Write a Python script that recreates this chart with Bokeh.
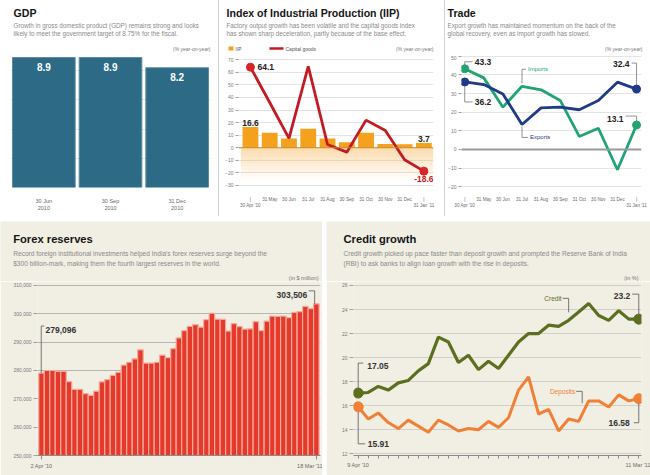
from bokeh.plotting import figure
from bokeh.layouts import column, row
from bokeh.models import Range1d, FactorRange, FixedTicker, NumeralTickFormatter, Span, Spacer, Label
from bokeh.core.properties import value
from bokeh.embed import file_html
from bokeh.resources import INLINE

# ---------------- data ----------------
gdp_quarters = ["30 Jun\n2010", "30 Sep\n2010", "31 Dec\n2010"]
gdp_growth = [8.9, 8.9, 8.2]

month_labels = ["30 Apr '10", "31 May", "30 Jun", "31 Jul", "31 Aug", "30 Sep",
                "31 Oct", "30 Nov", "31 Dec", "31 Jan '11"]
iip_growth = [16.6, 12.0, 7.4, 15.2, 7.4, 4.4, 12.0, 3.0, 2.8, 3.7]
capital_goods_growth = [64.1, 36.0, 7.5, 64.8, 2.6, -3.5, 22.0, 13.8, -9.5, -18.6]
iip_ticks = [-30, -20, -10, 0, 10, 20, 30, 40, 50, 60, 70]

import_growth = [43.3, 38.4, 22.7, 33.9, 32.0, 26.3, 7.0, 11.4, -10.9, 13.1]
export_growth = [36.2, 34.8, 29.8, 13.4, 22.3, 22.7, 21.3, 26.3, 36.1, 32.4]
trade_ticks = [-20, -10, 0, 10, 20, 30, 40, 50]

forex_end_labels = ["2 Apr '10", "18 Mar '11"]
forex_reserves = [279096, 280000, 280000, 279700, 279700, 276100, 273300, 273300,
                  271800, 271200, 272700, 276000, 276800, 278300, 279300, 281900,
                  282900, 284100, 287300, 282600, 282600, 282900, 285400, 284500,
                  287700, 291500, 294100, 295600, 296200, 295300, 297900, 300200,
                  298100, 298000, 293900, 296500, 295500, 294600, 294700, 297200,
                  294100, 297400, 299200, 299100, 299200, 298600, 300500, 300800,
                  302600, 301800, 303506]
forex_ticks = [250000, 260000, 270000, 280000, 290000, 300000, 310000]

credit_end_labels = ["9 Apr '10", "11 Mar '11"]
credit_growth = [17.05, 17.1, 17.6, 17.3, 17.9, 18.1, 18.9, 19.5, 21.7, 21.3,
                 19.6, 20.2, 19.0, 19.7, 19.1, 20.2, 21.3, 22.0, 22.0, 22.7,
                 22.6, 23.1, 23.8, 24.5, 23.5, 23.1, 23.9, 23.2, 23.2]
deposit_growth = [15.91, 14.9, 15.4, 14.6, 14.1, 14.8, 14.3, 13.8, 14.8, 14.4,
                  13.9, 14.1, 14.0, 14.7, 14.2, 15.0, 17.3, 18.4, 15.3, 15.7,
                  13.9, 14.9, 14.7, 16.4, 16.4, 15.9, 16.9, 16.4, 16.58]
credit_ticks = [12, 14, 16, 18, 20, 22, 24, 26]

# ---------------- style ----------------
NARROW = "Liberation Sans"
FN = value(NARROW)
WHITE = "#ffffff"
BEIGE = "#f1eee4"


def txt(f, x, y, t, size, color="#222222", bold=False, align="left",
        baseline="middle", xo=0, yo=0):
    f.text(x=x, y=y, text=t, text_font=FN, text_font_size=f"{size}px",
           text_font_style="bold" if bold else "normal", text_color=color,
           text_align=align, text_baseline=baseline, x_offset=xo, y_offset=yo)


def header(w, h, bg, title, tx, ty, tsize, subs, sy, ssize, unit, ux, uy, usize):
    f = figure(width=w, height=h, x_range=Range1d(0, w), y_range=Range1d(h, 0),
               toolbar_location=None, output_backend="svg", x_axis_location=None,
               y_axis_location=None, min_border=0, background_fill_color=bg,
               border_fill_color=bg, outline_line_color=None, frame_align=False)
    f.grid.visible = False
    txt(f, [tx], [ty], [title], tsize, color="#151515", bold=True)
    txt(f, [tx] * len(subs), sy, subs, ssize, color="#8a8a8a")
    txt(f, [ux], [uy], [unit], usize, color="#777777", align="right")
    return f


def plot_fig(w, h, xr, yr, bg, l, r, t, b, **kw):
    f = figure(width=w, height=h, x_range=xr, y_range=yr, toolbar_location=None,
               output_backend="svg", background_fill_color=bg, border_fill_color=bg,
               outline_line_color=None, min_border_left=l, min_border_right=r,
               min_border_top=t, min_border_bottom=b, frame_align=False, **kw)
    return f


def style_y(ax, size=5):
    ax.axis_line_color = None
    ax.major_tick_out = 3
    ax.major_tick_in = 0
    ax.minor_tick_line_color = None
    ax.major_tick_line_color = "#a0a0a0"
    ax.major_label_text_font = NARROW
    ax.major_label_text_font_size = f"{size}px"
    ax.major_label_text_color = "#7a7a7a"
    ax.major_label_standoff = 2


def style_x(ax, size=5):
    ax.minor_tick_line_color = None
    ax.major_tick_in = 0
    ax.major_label_text_font = NARROW
    ax.major_label_text_font_size = f"{size}px"
    ax.major_label_text_color = "#6a6a6a"
    ax.major_label_standoff = 3


TT = 10.6   # top titles
BT = 11.2   # bottom titles

# ================= GDP =================
gdp_h = header(218, 55, WHITE, "GDP", 13, 12, TT,
               ["Growth in gross domestic product (GDP) remains strong and looks",
                "likely to meet the government target of 8.75% for the fiscal."],
               [25, 33], 6.3, "(% year-on-year)", 210, 48, 5)
gdp_p = plot_fig(218, 161, FactorRange(factors=gdp_quarters), Range1d(0, 9.04), WHITE,
                 10, 8, 0, 29, y_axis_location=None)
gdp_p.vbar(x=gdp_quarters, top=gdp_growth, width=0.94, fill_color="#2d6a86",
           line_color="#5a8ca3", line_width=1)
txt(gdp_p, gdp_quarters, gdp_growth, [f"{v:.1f}" for v in gdp_growth], 10,
    color="#ffffff", bold=True, align="center", baseline="top", yo=5)
gdp_p.xgrid.visible = False
style_x(gdp_p.xaxis[0], 5.5)
gdp_p.xaxis.axis_line_color = None
gdp_p.xaxis.major_tick_line_color = None
gdp_p.xaxis.major_label_standoff = 4
gdp_p.add_layout(Label(x=0.03, y=-0.35, text="Quarter", text_font=NARROW,
                       text_font_size="4.5px", text_color="#888888", text_baseline="top"))
gdp_p.add_layout(Label(x=0.03, y=-0.85, text="ending", text_font=NARROW,
                       text_font_size="4.5px", text_color="#888888", text_baseline="top"))

# ================= IIP =================
idx = list(range(len(month_labels)))
iip_h = header(225, 55, WHITE, "Index of Industrial Production (IIP)", 7, 12, TT,
               ["Factory output growth has been volatile and the capital goods index",
                "has shown sharp deceleration, partly because of the base effect."],
               [25, 33], 6.3, "(% year-on-year)", 214, 48, 5)
iip_h.quad(left=[9], right=[14], top=[46], bottom=[50], fill_color="#f4a11d", line_color=None)
txt(iip_h, [16], [48], ["IIP"], 5, color="#555555")
iip_h.line(x=[50, 64], y=[48, 48], line_color="#c41a24", line_width=2.5)
txt(iip_h, [66], [48], ["Capital goods"], 5, color="#555555")

iip_p = plot_fig(225, 161, Range1d(-0.62, 9.5), Range1d(-31.6, 73.4), WHITE, 19, 11, 0, 29)
nb = 10
band = 2.5
iip_p.quad(left=[-0.5] * nb, right=[len(idx) - 0.5] * nb,
           top=[-k * band for k in range(nb)], bottom=[-(k + 1) * band for k in range(nb)],
           fill_color="#f6ad45", fill_alpha=[0.42 * (1 - k / nb) for k in range(nb)],
           line_color=None)
iip_p.vbar(x=idx, top=iip_growth, width=0.82, fill_color="#f4a11d", line_color=None)
iip_p.add_layout(Span(location=0, dimension="width", line_color="#c98a2a", line_width=1.2))
iip_p.line(idx, capital_goods_growth, line_color="#c41a24", line_width=2.8)
iip_p.scatter([idx[0], idx[-1]], [capital_goods_growth[0], capital_goods_growth[-1]],
              size=8, fill_color="#d9232b", line_color="#d9232b")
txt(iip_p, [idx[0]], [capital_goods_growth[0]], [f"{capital_goods_growth[0]:.1f}"], 8.5,
    bold=True, xo=7)
txt(iip_p, [idx[0]], [iip_growth[0]], [f"{iip_growth[0]:.1f}"], 8.5, bold=True,
    align="center", baseline="bottom", yo=-1)
txt(iip_p, [idx[-1]], [iip_growth[-1]], [f"{iip_growth[-1]:.1f}"], 8.5, bold=True,
    align="center", baseline="bottom", yo=-1)
txt(iip_p, [idx[-1]], [capital_goods_growth[-1]], [f"{capital_goods_growth[-1]:.1f}"], 8.5,
    color="#c41a24", bold=True, align="center", baseline="top", yo=5)
iip_p.xgrid.visible = False
iip_p.ygrid.grid_line_color = "#dcdcdc"
iip_p.ygrid.grid_line_width = 0.8
iip_p.yaxis.ticker = FixedTicker(ticks=iip_ticks)
style_y(iip_p.yaxis[0])
iip_p.xaxis.ticker = FixedTicker(ticks=idx)
ov = {i: m for i, m in enumerate(month_labels)}
ov[0] = "|\n" + month_labels[0]
ov[len(idx) - 1] = "|\n" + month_labels[-1]
iip_p.xaxis.major_label_overrides = ov
style_x(iip_p.xaxis[0], 4.6)
iip_p.xaxis.axis_line_color = None
iip_p.xaxis.major_tick_line_color = None

# ================= Trade =================
tr_h = header(205, 55, WHITE, "Trade", 2, 12, TT,
              ["Export growth has maintained momentum on the back of the",
               "global recovery, even as import growth has slowed."],
              [25, 33], 6.3, "(% year-on-year)", 197, 48, 5)
tr_p = plot_fig(205, 161, Range1d(-0.17, 9.26), Range1d(-20.4, 50.4), WHITE, 14, 9, 0, 29)
tpx = 19.3   # px per month
tpy = 1.866  # px per unit
tr_p.add_layout(Span(location=0, dimension="width", line_color="#9a9a9a", line_width=2))
tr_p.line(idx, import_growth, line_color="#21a372", line_width=2.8)
tr_p.line(idx, export_growth, line_color="#1f3a87", line_width=2.8)
tr_p.scatter([idx[0], idx[-1]], [import_growth[0], import_growth[-1]], size=8,
             fill_color="#21a372", line_color="#21a372")
tr_p.scatter([idx[0], idx[-1]], [export_growth[0], export_growth[-1]], size=8,
             fill_color="#1f3a87", line_color="#1f3a87")
lead = dict(line_color="#777777", line_width=0.8)
i0, i9 = idx[0], idx[-1]
v = import_growth[0]
tr_p.line([i0, i0, i0 + 8 / tpx], [v + 3 / tpy, v + 7 / tpy, v + 7 / tpy], **lead)
txt(tr_p, [i0], [v], [f"{v:.1f}"], 8.5, bold=True, xo=10, yo=-7)
v = export_growth[0]
tr_p.line([i0, i0, i0 + 8 / tpx], [v - 4 / tpy, v - 20 / tpy, v - 20 / tpy], **lead)
txt(tr_p, [i0], [v], [f"{v:.1f}"], 8.5, bold=True, xo=10, yo=20)
v = export_growth[-1]
tr_p.line([i9, i9, i9 - 5 / tpx], [v + 4 / tpy, v + 26 / tpy, v + 26 / tpy], **lead)
txt(tr_p, [i9], [v], [f"{v:.1f}"], 8.5, bold=True, align="right", xo=-7, yo=-25)
v = import_growth[-1]
tr_p.line([i9, i9, i9 - 11 / tpx], [v + 4 / tpy, v + 9 / tpy, v + 9 / tpy], **lead)
txt(tr_p, [i9], [v], [f"{v:.1f}"], 8.5, bold=True, align="right", xo=-13, yo=-6)
v = import_growth[3]
tr_p.line([3, 3, 3 + 4 / tpx], [v + 3 / tpy, v + 17 / tpy, v + 17 / tpy], **lead)
txt(tr_p, [3], [v], ["Imports"], 6, color="#21a372", xo=6, yo=-17)
v = export_growth[3]
tr_p.line([3, 3, 3 + 6 / tpx], [v - 2 / tpy, v - 13 / tpy, v - 13 / tpy], **lead)
txt(tr_p, [3], [v], ["Exports"], 6, color="#1f3a87", xo=8, yo=13)
tr_p.xgrid.visible = False
tr_p.ygrid.grid_line_color = "#dcdcdc"
tr_p.ygrid.grid_line_width = 0.8
tr_p.yaxis.ticker = FixedTicker(ticks=trade_ticks)
style_y(tr_p.yaxis[0])
tr_p.xaxis.ticker = FixedTicker(ticks=idx)
tr_p.xaxis.major_label_overrides = ov
style_x(tr_p.xaxis[0], 4.6)
tr_p.xaxis.axis_line_color = None
tr_p.xaxis.major_tick_line_color = None

# ================= Forex =================
fx_h = header(322, 60, BEIGE, "Forex reserves", 12.7, 17, BT,
              ["Record foreign institutional investments helped India's forex reserves surge beyond the",
               "$300 billion-mark, making them the fourth largest reserves in the world."],
              [32, 42], 6.6, "(in $ million)", 318, 56, 5.5)
fidx = list(range(len(forex_reserves)))
fx_p = plot_fig(322, 194, Range1d(-0.73, len(fidx) - 0.24), Range1d(250000, 311400), BEIGE,
                37, 2, 0, 20)
fpy = 174 / 61400.0
fpx = 5.496
fx_p.vbar(x=fidx, top=forex_reserves, bottom=forex_ticks[0], width=1.0,
          fill_color="#e5392b", line_color="#f4ab9b", line_width=1.2)
lead2 = dict(line_color="#555555", line_width=0.8)
v = forex_reserves[0]
fx_p.line([-0.05, -0.05, -0.05 + 3 / fpx], [v, v + 47 / fpy, v + 47 / fpy], **lead2)
txt(fx_p, [fidx[0]], [v], [f"{v:,}"], 8.5, bold=True, color="#333333", xo=4, yo=-43)
v = forex_reserves[-1]
n9 = fidx[-1]
fx_p.line([n9 - 0.3, n9 - 0.3, n9 - 0.3 - 6 / fpx], [v, v + 13 / fpy, v + 13 / fpy], **lead2)
txt(fx_p, [n9], [v], [f"{v:,}"], 8.5, bold=True, color="#333333", align="right",
    xo=-9, yo=-9)
fx_p.xgrid.visible = False
fx_p.ygrid.grid_line_color = "#9c9c9c"
fx_p.ygrid.grid_line_width = 0.7
fx_p.yaxis.ticker = FixedTicker(ticks=forex_ticks)
fx_p.yaxis.formatter = NumeralTickFormatter(format="0,0")
style_y(fx_p.yaxis[0], 5)
fx_p.yaxis.major_tick_out = 4
fx_p.xaxis.ticker = FixedTicker(ticks=[fidx[0], fidx[-1]])
fx_p.xaxis.major_label_overrides = {fidx[0]: forex_end_labels[0], fidx[-1]: forex_end_labels[1]}
style_x(fx_p.xaxis[0], 5.5)
fx_p.xaxis.axis_line_color = "#8a8a8a"
fx_p.xaxis.major_tick_out = 4
fx_p.xaxis.major_tick_line_color = "#8a8a8a"

# ================= Credit =================
cr_h = header(324, 60, BEIGE, "Credit growth", 17, 17, BT,
              ["Credit growth picked up pace faster than deposit growth and prompted the Reserve Bank of India",
               "(RBI) to ask banks to align loan growth with the rise in deposits."],
              [32, 42], 6.6, "(in %)", 312, 56, 5.5)
cidx = list(range(len(credit_growth)))
cr_p = plot_fig(324, 194, Range1d(-0.47, len(cidx) - 0.73), Range1d(11.86, 26.33), BEIGE,
                27, 9, 0, 20)
cpx = 10.02
cpy = 12.02
cr_p.line(cidx, credit_growth, line_color="#5b6f1f", line_width=3.2)
cr_p.line(cidx, deposit_growth, line_color="#f08036", line_width=3.0)
c0, cl = cidx[0], cidx[-1]
cr_p.scatter([c0, cl], [credit_growth[0], credit_growth[-1]], size=10,
             fill_color="#5b6f1f", line_color="#5b6f1f")
cr_p.scatter([c0, cl], [deposit_growth[0], deposit_growth[-1]], size=10,
             fill_color="#f08036", line_color="#f08036")
v = credit_growth[0]
cr_p.line([c0, c0, c0 + 5 / cpx], [v + 5 / cpy, v + 30 / cpy, v + 30 / cpy], **lead2)
txt(cr_p, [c0], [v], [f"{v:.2f}"], 8.5, bold=True, color="#333333", xo=9, yo=-27)
v = deposit_growth[0]
cr_p.line([c0, c0, c0 + 7 / cpx], [v - 5 / cpy, v - 37 / cpy, v - 37 / cpy], **lead2)
txt(cr_p, [c0], [v], [f"{v:.2f}"], 8.5, bold=True, color="#333333", xo=9.5, yo=37)
v = credit_growth[-1]
cr_p.line([cl, cl, cl - 6.6 / cpx], [v + 5 / cpy, v + 25 / cpy, v + 25 / cpy], **lead2)
txt(cr_p, [cl], [v], [f"{v:.1f}"], 8.5, bold=True, color="#333333", align="right",
    xo=-8.5, yo=-23)
v = deposit_growth[-1]
cr_p.line([cl, cl, cl - 5 / cpx], [v - 5 / cpy, v - 24 / cpy, v - 24 / cpy], **lead2)
txt(cr_p, [cl], [v], [f"{v:.2f}"], 8.5, bold=True, color="#333333", align="right",
    xo=-9, yo=24)
k = 21
v = credit_growth[k]
cr_p.line([k, k, k - 6 / cpx], [v + 8 / cpy, v + 22 / cpy, v + 22 / cpy], **lead2)
txt(cr_p, [k], [v], ["Credit"], 6.5, color="#5b6f1f", align="right", xo=-7, yo=-22)
k = 22
v = deposit_growth[k]
cr_p.line([k + 0.35, k + 0.35, k + 0.35 - 6 / cpx], [v + 18 / cpy, v + 30 / cpy, v + 30 / cpy], **lead2)
txt(cr_p, [k + 0.35], [v], ["Deposits"], 6.5, color="#f08036", align="right", xo=-7, yo=-30)
cr_p.xgrid.visible = False
cr_p.ygrid.grid_line_color = "#c9c7bf"
cr_p.ygrid.grid_line_width = 0.8
cr_p.yaxis.ticker = FixedTicker(ticks=credit_ticks)
style_y(cr_p.yaxis[0], 5)
cr_p.yaxis.major_tick_out = 4
cr_p.xaxis.ticker = FixedTicker(ticks=cidx)
cov = {i: "" for i in cidx}
cov[c0] = credit_end_labels[0]
cov[cl] = credit_end_labels[1]
cr_p.xaxis.major_label_overrides = cov
style_x(cr_p.xaxis[0], 5.5)
cr_p.xaxis.axis_line_color = "#8a8a8a"
cr_p.xaxis.major_tick_out = 3
cr_p.xaxis.major_tick_line_color = "#8a8a8a"

# ================= layout =================
div1 = Spacer(width=1, height=216, styles={"background-color": "#d2d2d2"})
div2 = Spacer(width=1, height=216, styles={"background-color": "#d2d2d2"})
top = row(column(gdp_h, gdp_p), div1, column(iip_h, iip_p), div2, column(tr_h, tr_p))
gap = Spacer(width=650, height=5)
bottom = row(column(fx_h, fx_p), Spacer(width=4, height=254), column(cr_h, cr_p))
page = column(top, gap, bottom)

open("out.html", "w").write(file_html(page, INLINE, title="India economy charts"))
